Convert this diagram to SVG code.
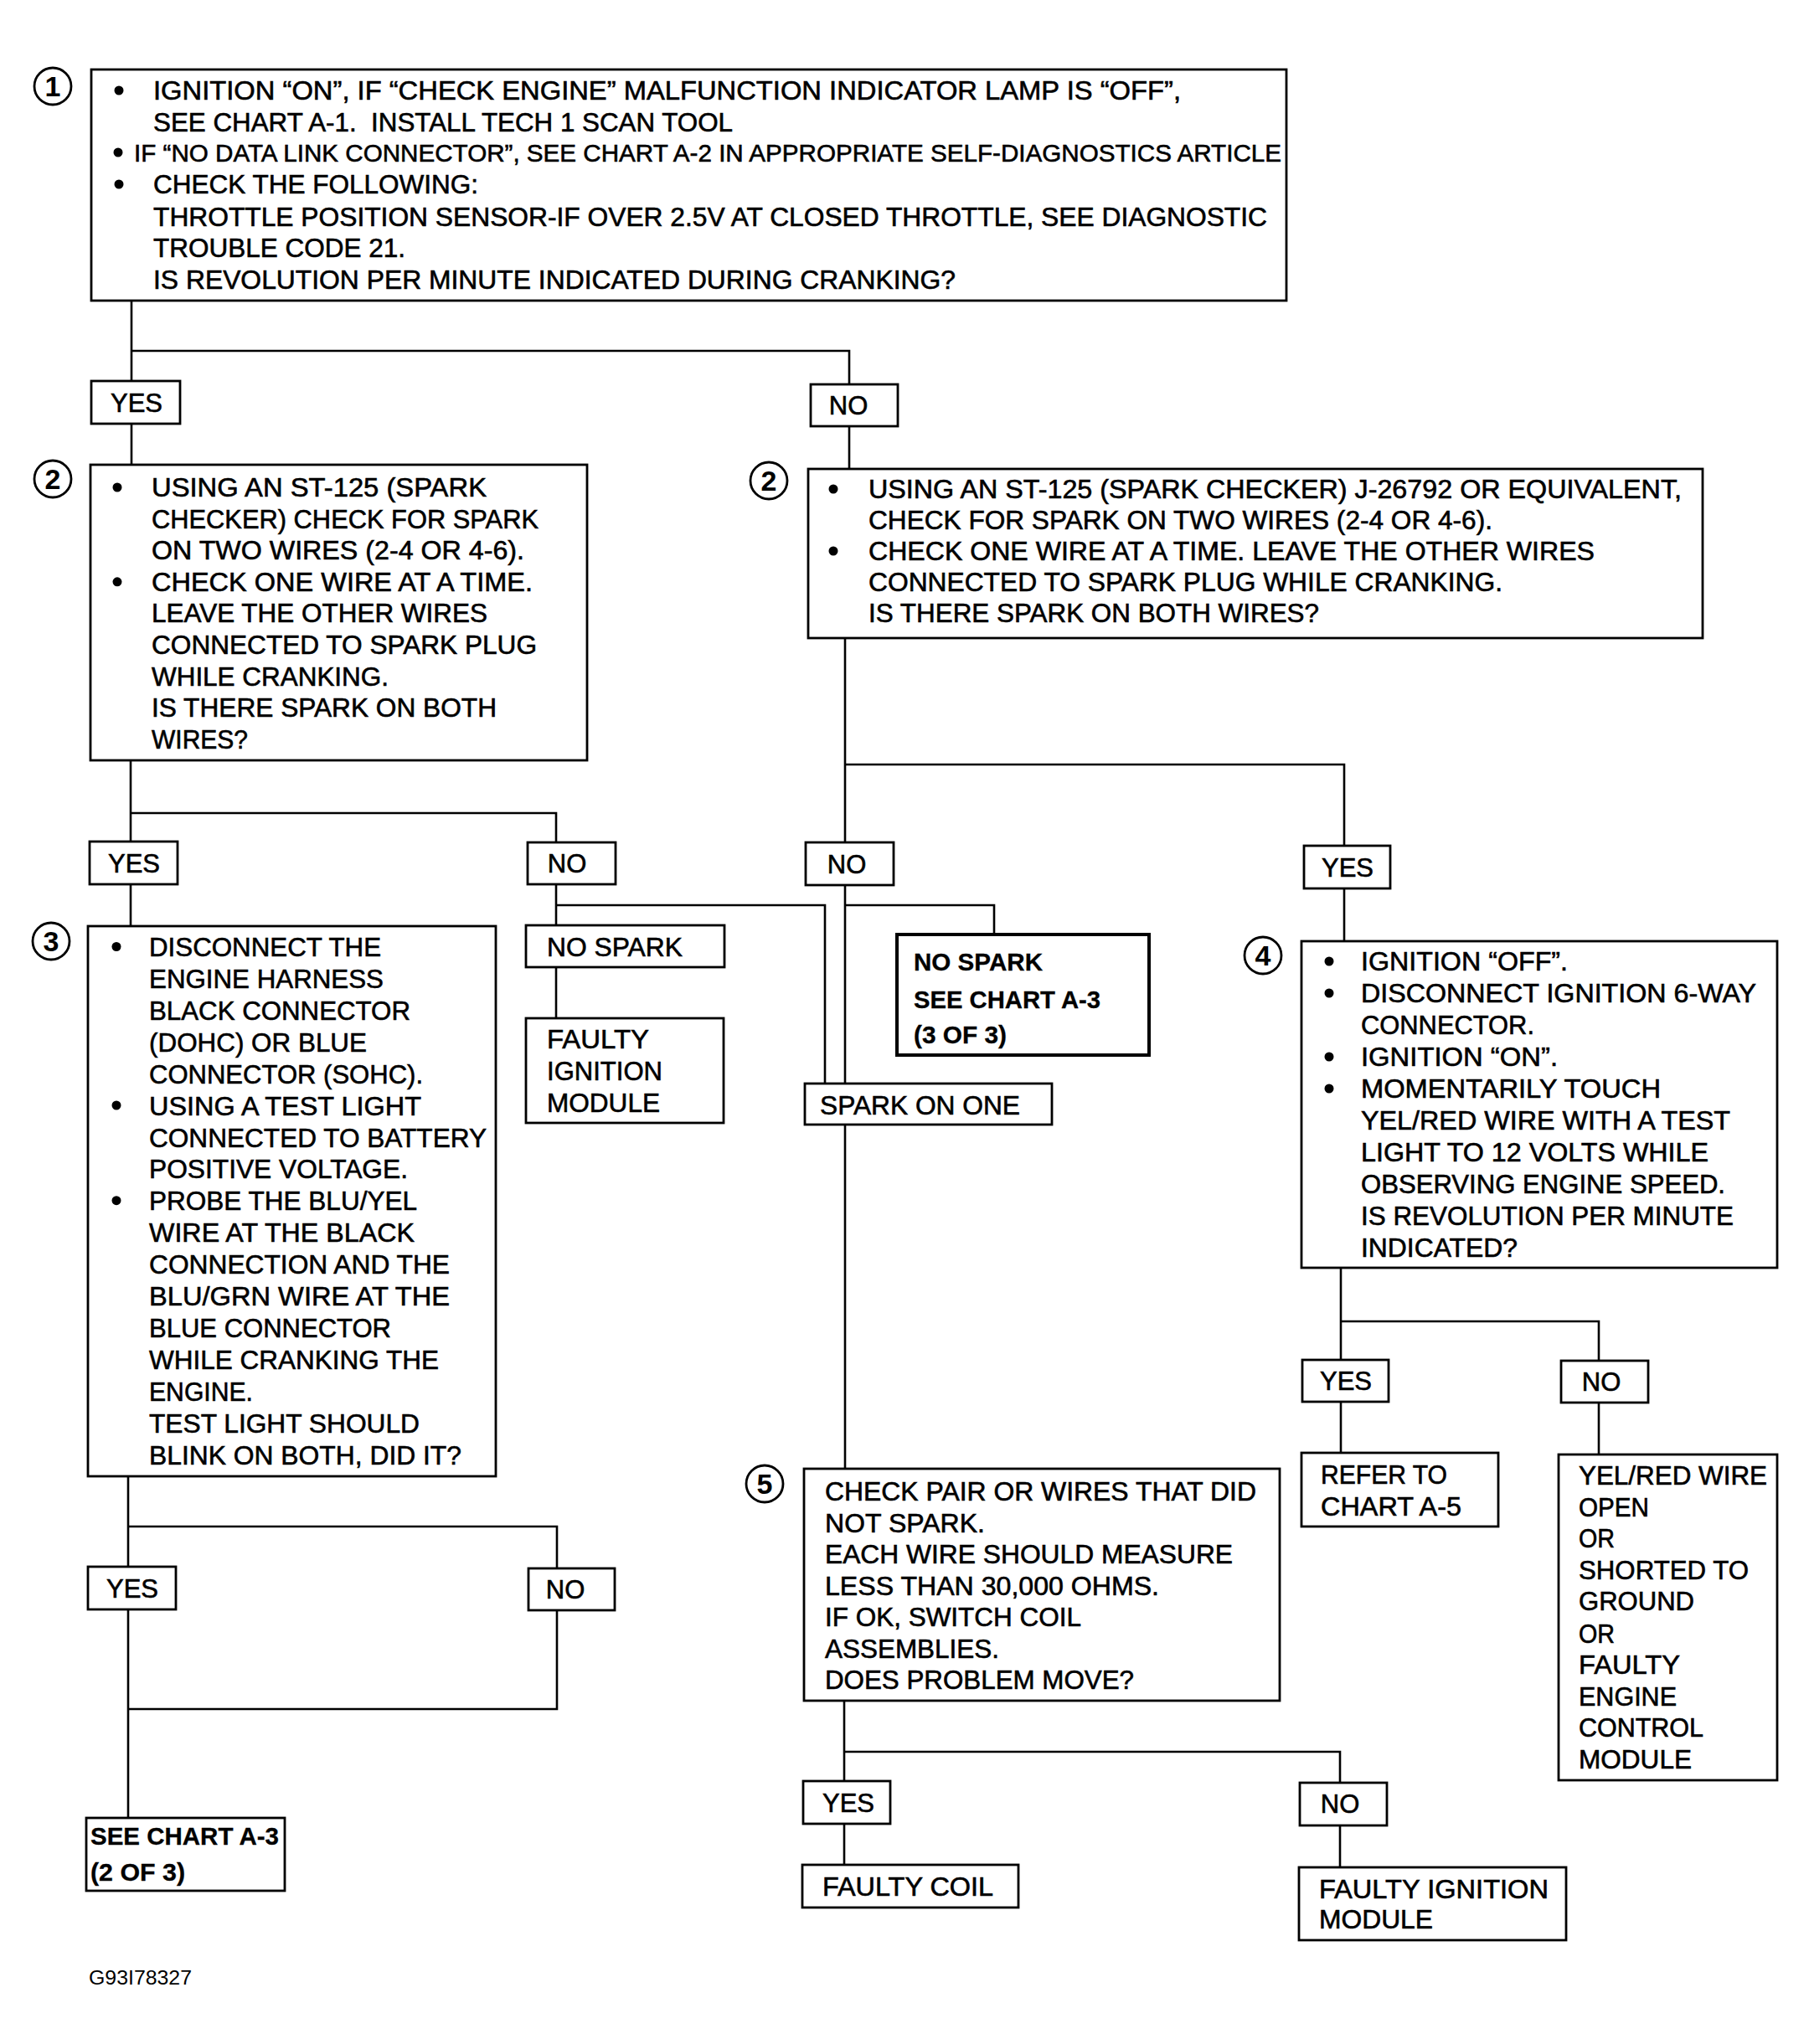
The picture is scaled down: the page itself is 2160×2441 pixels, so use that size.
<svg xmlns="http://www.w3.org/2000/svg" width="2160" height="2441" viewBox="0 0 2160 2441">
<style>
.box{fill:#fff;stroke:#000;stroke-width:2.8}
.thick{stroke-width:4}
.conn path{fill:none;stroke:#000;stroke-width:2.6}
text{font-family:"Liberation Sans",Arial,Helvetica,sans-serif;fill:#000;stroke:#000;stroke-width:0.6}
.t{font-size:31px}
.t3{font-size:32px}
.s30{font-size:30px}
.lbl{font-size:31px;text-anchor:middle}
.cond{font-size:29px;font-weight:bold;stroke-width:0.3}
.num{font-size:34px;font-weight:bold;text-anchor:middle;stroke-width:0}
.foot{font-size:23px;stroke-width:0}
.circ{fill:none;stroke:#000;stroke-width:2.8}
</style>
<rect width="2160" height="2441" fill="#fff"/>
<g id="connectors" class="conn">
<path d="M157,359 V455"/>
<path d="M157,419 H1014 V459"/>
<path d="M157,506 V555"/>
<path d="M1014,509 V560"/>
<path d="M156,908 V1005"/>
<path d="M156,971 H664 V1006"/>
<path d="M156,1056 V1106"/>
<path d="M664,1056 V1105"/>
<path d="M664,1081 H985 V1294"/>
<path d="M664,1155 V1216"/>
<path d="M1009,762 V1006"/>
<path d="M1009,913 H1605 V1010"/>
<path d="M1009,1057 V1754"/>
<path d="M1009,1081 H1187 V1116"/>
<path d="M1605,1061 V1124"/>
<path d="M1601,1514 V1624"/>
<path d="M1601,1578 H1909 V1625"/>
<path d="M1601,1674 V1735"/>
<path d="M1909,1675 V1737"/>
<path d="M153,1763 V1871"/>
<path d="M153,1823 H665 V1873"/>
<path d="M153,1922 V2171"/>
<path d="M665,1923 V2041 H153"/>
<path d="M1008,2031 V2127"/>
<path d="M1008,2092 H1600 V2129"/>
<path d="M1008,2178 V2227"/>
<path d="M1600,2180 V2230"/>
</g>
<g id="step1">
<circle class="circ" cx="63" cy="103" r="22"/><text class="num" x="63" y="115">1</text>
<rect class="box" x="109" y="83" width="1427" height="276"/>
<circle cx="142" cy="108" r="5.5"/>
<text class="t" x="183" y="119" textLength="1227" lengthAdjust="spacingAndGlyphs">IGNITION “ON”, IF “CHECK ENGINE” MALFUNCTION INDICATOR LAMP IS “OFF”,</text>
<text class="t" x="183" y="157" textLength="692" lengthAdjust="spacingAndGlyphs" xml:space="preserve">SEE CHART A-1.  INSTALL TECH 1 SCAN TOOL</text>
<circle cx="141" cy="182" r="5.5"/>
<text class="s30" x="160" y="193" textLength="1370" lengthAdjust="spacingAndGlyphs">IF “NO DATA LINK CONNECTOR”, SEE CHART A-2 IN APPROPRIATE SELF-DIAGNOSTICS ARTICLE</text>
<circle cx="142" cy="220" r="5.5"/>
<text class="t" x="183" y="231" textLength="388" lengthAdjust="spacingAndGlyphs">CHECK THE FOLLOWING:</text>
<text class="t" x="183" y="270" textLength="1330" lengthAdjust="spacingAndGlyphs">THROTTLE POSITION SENSOR-IF OVER 2.5V AT CLOSED THROTTLE, SEE DIAGNOSTIC</text>
<text class="t" x="183" y="307" textLength="301" lengthAdjust="spacingAndGlyphs">TROUBLE CODE 21.</text>
<text class="t" x="183" y="345" textLength="958" lengthAdjust="spacingAndGlyphs">IS REVOLUTION PER MINUTE INDICATED DURING CRANKING?</text>
</g>
<g id="yes1"><rect class="box" x="109" y="455" width="106" height="51"/><text class="lbl" x="163" y="492">YES</text></g>
<g id="no1"><rect class="box" x="968" y="459" width="104" height="50"/><text class="lbl" x="1013" y="495">NO</text></g>
<g id="step2a">
<circle class="circ" cx="63" cy="572" r="22"/><text class="num" x="63" y="584">2</text>
<rect class="box" x="108" y="555" width="593" height="353"/>
<circle cx="140" cy="582" r="5.5"/>
<text class="t" x="181" y="593" textLength="400" lengthAdjust="spacingAndGlyphs">USING AN ST-125 (SPARK</text>
<text class="t" x="181" y="630.6" textLength="462" lengthAdjust="spacingAndGlyphs">CHECKER) CHECK FOR SPARK</text>
<text class="t" x="181" y="668.2" textLength="445" lengthAdjust="spacingAndGlyphs">ON TWO WIRES (2-4 OR 4-6).</text>
<circle cx="140" cy="694.8" r="5.5"/>
<text class="t" x="181" y="705.8" textLength="455" lengthAdjust="spacingAndGlyphs">CHECK ONE WIRE AT A TIME.</text>
<text class="t" x="181" y="743.4" textLength="401" lengthAdjust="spacingAndGlyphs">LEAVE THE OTHER WIRES</text>
<text class="t" x="181" y="781" textLength="460" lengthAdjust="spacingAndGlyphs">CONNECTED TO SPARK PLUG</text>
<text class="t" x="181" y="818.6" textLength="283" lengthAdjust="spacingAndGlyphs">WHILE CRANKING.</text>
<text class="t" x="181" y="856.2" textLength="412" lengthAdjust="spacingAndGlyphs">IS THERE SPARK ON BOTH</text>
<text class="t" x="181" y="893.8" textLength="115" lengthAdjust="spacingAndGlyphs">WIRES?</text>
</g>
<g id="step2b">
<circle class="circ" cx="918" cy="574" r="22"/><text class="num" x="918" y="586">2</text>
<rect class="box" x="965" y="560" width="1068" height="202"/>
<circle cx="995" cy="584" r="5.5"/>
<text class="t" x="1037" y="595" textLength="971" lengthAdjust="spacingAndGlyphs">USING AN ST-125 (SPARK CHECKER) J-26792 OR EQUIVALENT,</text>
<text class="t" x="1037" y="632" textLength="745" lengthAdjust="spacingAndGlyphs">CHECK FOR SPARK ON TWO WIRES (2-4 OR 4-6).</text>
<circle cx="995" cy="658" r="5.5"/>
<text class="t" x="1037" y="669" textLength="867" lengthAdjust="spacingAndGlyphs">CHECK ONE WIRE AT A TIME. LEAVE THE OTHER WIRES</text>
<text class="t" x="1037" y="706" textLength="757" lengthAdjust="spacingAndGlyphs">CONNECTED TO SPARK PLUG WHILE CRANKING.</text>
<text class="t" x="1037" y="743" textLength="538" lengthAdjust="spacingAndGlyphs">IS THERE SPARK ON BOTH WIRES?</text>
</g>
<g id="yes2a"><rect class="box" x="107" y="1005" width="105" height="51"/><text class="lbl" x="160" y="1042">YES</text></g>
<g id="no2a"><rect class="box" x="630" y="1006" width="105" height="50"/><text class="lbl" x="677" y="1042">NO</text></g>
<g id="no2b"><rect class="box" x="962" y="1006" width="105" height="51"/><text class="lbl" x="1011" y="1043">NO</text></g>
<g id="yes2b"><rect class="box" x="1557" y="1010" width="103" height="51"/><text class="lbl" x="1609" y="1047">YES</text></g>
<g id="step3">
<circle class="circ" cx="61" cy="1124" r="22"/><text class="num" x="61" y="1136">3</text>
<rect class="box" x="105" y="1106" width="487" height="657"/>
<circle cx="139" cy="1130.5" r="5.5"/>
<text class="t3" x="178" y="1142" textLength="277" lengthAdjust="spacingAndGlyphs">DISCONNECT THE</text>
<text class="t3" x="178" y="1180" textLength="280" lengthAdjust="spacingAndGlyphs">ENGINE HARNESS</text>
<text class="t3" x="178" y="1218" textLength="312" lengthAdjust="spacingAndGlyphs">BLACK CONNECTOR</text>
<text class="t3" x="178" y="1256" textLength="260" lengthAdjust="spacingAndGlyphs">(DOHC) OR BLUE</text>
<text class="t3" x="178" y="1294" textLength="327" lengthAdjust="spacingAndGlyphs">CONNECTOR (SOHC).</text>
<circle cx="139" cy="1320" r="5.5"/>
<text class="t3" x="178" y="1331.5" textLength="325" lengthAdjust="spacingAndGlyphs">USING A TEST LIGHT</text>
<text class="t3" x="178" y="1369.5" textLength="403" lengthAdjust="spacingAndGlyphs">CONNECTED TO BATTERY</text>
<text class="t3" x="178" y="1407" textLength="309" lengthAdjust="spacingAndGlyphs">POSITIVE VOLTAGE.</text>
<circle cx="139" cy="1433.7" r="5.5"/>
<text class="t3" x="178" y="1445" textLength="320" lengthAdjust="spacingAndGlyphs">PROBE THE BLU/YEL</text>
<text class="t3" x="178" y="1483" textLength="317" lengthAdjust="spacingAndGlyphs">WIRE AT THE BLACK</text>
<text class="t3" x="178" y="1521" textLength="359" lengthAdjust="spacingAndGlyphs">CONNECTION AND THE</text>
<text class="t3" x="178" y="1559" textLength="359" lengthAdjust="spacingAndGlyphs">BLU/GRN WIRE AT THE</text>
<text class="t3" x="178" y="1597" textLength="289" lengthAdjust="spacingAndGlyphs">BLUE CONNECTOR</text>
<text class="t3" x="178" y="1635" textLength="346" lengthAdjust="spacingAndGlyphs">WHILE CRANKING THE</text>
<text class="t3" x="178" y="1672.5" textLength="124" lengthAdjust="spacingAndGlyphs">ENGINE.</text>
<text class="t3" x="178" y="1710.5" textLength="323" lengthAdjust="spacingAndGlyphs">TEST LIGHT SHOULD</text>
<text class="t3" x="178" y="1748.5" textLength="373" lengthAdjust="spacingAndGlyphs">BLINK ON BOTH, DID IT?</text>
</g>
<g id="nospark1"><rect class="box" x="628" y="1105" width="237" height="50"/><text class="t3" x="653" y="1141.5" textLength="162" lengthAdjust="spacingAndGlyphs">NO SPARK</text></g>
<g id="faultymodule1"><rect class="box" x="628" y="1216" width="236" height="125"/>
<text class="t3" x="653" y="1251.5" textLength="122" lengthAdjust="spacingAndGlyphs">FAULTY</text>
<text class="t3" x="653" y="1290" textLength="138" lengthAdjust="spacingAndGlyphs">IGNITION</text>
<text class="t3" x="653" y="1327.5" textLength="135" lengthAdjust="spacingAndGlyphs">MODULE</text></g>
<g id="nospark2"><rect class="box thick" x="1071" y="1116" width="301" height="144"/>
<text class="cond" x="1091" y="1158.5" textLength="154" lengthAdjust="spacingAndGlyphs">NO SPARK</text>
<text class="cond" x="1091" y="1203.5" textLength="223" lengthAdjust="spacingAndGlyphs">SEE CHART A-3</text>
<text class="cond" x="1091" y="1245.5" textLength="111" lengthAdjust="spacingAndGlyphs">(3 OF 3)</text></g>
<g id="sparkone"><rect class="box" x="961" y="1294" width="295" height="49"/><text class="t3" x="979" y="1330.5" textLength="239" lengthAdjust="spacingAndGlyphs">SPARK ON ONE</text></g>
<g id="step4">
<circle class="circ" cx="1508" cy="1141" r="22"/><text class="num" x="1508" y="1153">4</text>
<rect class="box" x="1554" y="1124" width="568" height="390"/>
<circle cx="1587" cy="1148" r="5.5"/>
<text class="t" x="1625" y="1159" textLength="247" lengthAdjust="spacingAndGlyphs">IGNITION “OFF”.</text>
<circle cx="1587" cy="1186" r="5.5"/>
<text class="t" x="1625" y="1197" textLength="472" lengthAdjust="spacingAndGlyphs">DISCONNECT IGNITION 6-WAY</text>
<text class="t" x="1625" y="1235" textLength="207" lengthAdjust="spacingAndGlyphs">CONNECTOR.</text>
<circle cx="1587" cy="1262" r="5.5"/>
<text class="t" x="1625" y="1273" textLength="235" lengthAdjust="spacingAndGlyphs">IGNITION “ON”.</text>
<circle cx="1587" cy="1300" r="5.5"/>
<text class="t" x="1625" y="1311" textLength="358" lengthAdjust="spacingAndGlyphs">MOMENTARILY TOUCH</text>
<text class="t" x="1625" y="1349" textLength="441" lengthAdjust="spacingAndGlyphs">YEL/RED WIRE WITH A TEST</text>
<text class="t" x="1625" y="1387" textLength="415" lengthAdjust="spacingAndGlyphs">LIGHT TO 12 VOLTS WHILE</text>
<text class="t" x="1625" y="1425" textLength="435" lengthAdjust="spacingAndGlyphs">OBSERVING ENGINE SPEED.</text>
<text class="t" x="1625" y="1463" textLength="445" lengthAdjust="spacingAndGlyphs">IS REVOLUTION PER MINUTE</text>
<text class="t" x="1625" y="1501" textLength="187" lengthAdjust="spacingAndGlyphs">INDICATED?</text>
</g>
<g id="yes4"><rect class="box" x="1555" y="1624" width="103" height="50"/><text class="lbl" x="1607" y="1660">YES</text></g>
<g id="no4"><rect class="box" x="1864" y="1625" width="104" height="50"/><text class="lbl" x="1912" y="1661">NO</text></g>
<g id="refer"><rect class="box" x="1554" y="1735" width="235" height="88"/>
<text class="t" x="1577" y="1772" textLength="151" lengthAdjust="spacingAndGlyphs">REFER TO</text>
<text class="t" x="1577" y="1809.5" textLength="168" lengthAdjust="spacingAndGlyphs">CHART A-5</text></g>
<g id="yelred"><rect class="box" x="1861" y="1737" width="261" height="389"/>
<text class="t" x="1885" y="1773" textLength="225" lengthAdjust="spacingAndGlyphs">YEL/RED WIRE</text>
<text class="t" x="1885" y="1810.6" textLength="84" lengthAdjust="spacingAndGlyphs">OPEN</text>
<text class="t" x="1885" y="1848.4" textLength="43" lengthAdjust="spacingAndGlyphs">OR</text>
<text class="t" x="1885" y="1885.5" textLength="203" lengthAdjust="spacingAndGlyphs">SHORTED TO</text>
<text class="t" x="1885" y="1923.3" textLength="138" lengthAdjust="spacingAndGlyphs">GROUND</text>
<text class="t" x="1885" y="1961.8" textLength="43" lengthAdjust="spacingAndGlyphs">OR</text>
<text class="t" x="1885" y="1999" textLength="121" lengthAdjust="spacingAndGlyphs">FAULTY</text>
<text class="t" x="1885" y="2036.8" textLength="117" lengthAdjust="spacingAndGlyphs">ENGINE</text>
<text class="t" x="1885" y="2074" textLength="149" lengthAdjust="spacingAndGlyphs">CONTROL</text>
<text class="t" x="1885" y="2112" textLength="135" lengthAdjust="spacingAndGlyphs">MODULE</text></g>
<g id="step5">
<circle class="circ" cx="913" cy="1772" r="22"/><text class="num" x="913" y="1784">5</text>
<rect class="box" x="960" y="1754" width="568" height="277"/>
<text class="t" x="985" y="1792" textLength="515" lengthAdjust="spacingAndGlyphs">CHECK PAIR OR WIRES THAT DID</text>
<text class="t" x="985" y="1829.5" textLength="191" lengthAdjust="spacingAndGlyphs">NOT SPARK.</text>
<text class="t" x="985" y="1867" textLength="487" lengthAdjust="spacingAndGlyphs">EACH WIRE SHOULD MEASURE</text>
<text class="t" x="985" y="1904.5" textLength="399" lengthAdjust="spacingAndGlyphs">LESS THAN 30,000 OHMS.</text>
<text class="t" x="985" y="1942" textLength="306" lengthAdjust="spacingAndGlyphs">IF OK, SWITCH COIL</text>
<text class="t" x="985" y="1979.5" textLength="208" lengthAdjust="spacingAndGlyphs">ASSEMBLIES.</text>
<text class="t" x="985" y="2017" textLength="369" lengthAdjust="spacingAndGlyphs">DOES PROBLEM MOVE?</text>
</g>
<g id="yes3"><rect class="box" x="105" y="1871" width="105" height="51"/><text class="lbl" x="158" y="1908">YES</text></g>
<g id="no3"><rect class="box" x="631" y="1873" width="103" height="50"/><text class="lbl" x="675" y="1909">NO</text></g>
<g id="seechart2"><rect class="box" x="103" y="2171" width="237" height="87"/>
<text class="cond" x="108" y="2202.5" textLength="225" lengthAdjust="spacingAndGlyphs">SEE CHART A-3</text>
<text class="cond" x="108" y="2245.5" textLength="113" lengthAdjust="spacingAndGlyphs">(2 OF 3)</text></g>
<g id="yes5"><rect class="box" x="959" y="2127" width="104" height="51"/><text class="lbl" x="1013" y="2164">YES</text></g>
<g id="no5"><rect class="box" x="1552" y="2129" width="104" height="51"/><text class="lbl" x="1600" y="2165">NO</text></g>
<g id="faultycoil"><rect class="box" x="958" y="2227" width="258" height="51"/><text class="t" x="982" y="2264" textLength="204" lengthAdjust="spacingAndGlyphs">FAULTY COIL</text></g>
<g id="faultymodule2"><rect class="box" x="1551" y="2230" width="319" height="87"/>
<text class="t" x="1575" y="2267" textLength="274" lengthAdjust="spacingAndGlyphs">FAULTY IGNITION</text>
<text class="t" x="1575" y="2302.5" textLength="136" lengthAdjust="spacingAndGlyphs">MODULE</text></g>
<text class="foot" x="106" y="2370" textLength="123" lengthAdjust="spacingAndGlyphs">G93I78327</text>
</svg>
